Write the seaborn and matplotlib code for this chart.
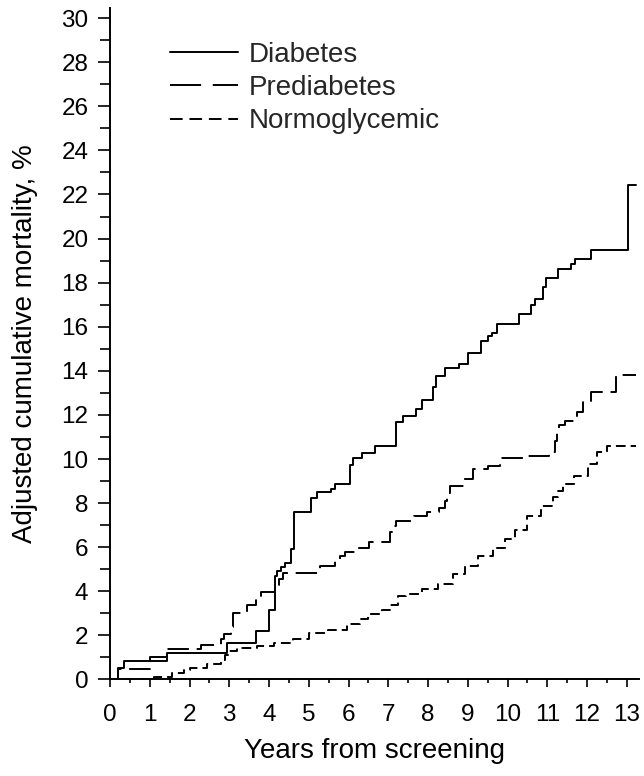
import matplotlib
matplotlib.use("Agg")
import matplotlib.pyplot as plt
import pandas as pd
import seaborn as sns
from matplotlib.lines import Line2D
from matplotlib.ticker import MultipleLocator

groups = ["Diabetes", "Prediabetes", "Normoglycemic"]

# step curves (value holds from each time onward)
diab_years = [0, 0.2, 0.36, 1.44, 2.95, 3.68, 4.0, 4.14, 4.2, 4.29, 4.4, 4.55, 4.62,
              5.06, 5.2, 5.56, 5.66, 6.04, 6.12, 6.35, 6.67, 7.19, 7.38, 7.71, 7.86,
              8.13, 8.2, 8.42, 8.78, 9.0, 9.34, 9.5, 9.6, 9.74, 10.3, 10.59, 10.69,
              10.88, 10.97, 11.28, 11.6, 11.7, 12.1, 13.03, 13.22]
diab_mort = [0, 0.5, 0.83, 1.2, 1.64, 2.2, 3.15, 4.7, 4.9, 5.1, 5.3, 5.9, 7.6,
             8.25, 8.5, 8.66, 8.86, 9.74, 10.05, 10.27, 10.6, 11.7, 11.94, 12.27, 12.68,
             13.26, 13.76, 14.12, 14.3, 14.8, 15.35, 15.6, 15.7, 16.12, 16.6, 16.97, 17.27,
             17.8, 18.23, 18.64, 18.86, 19.08, 19.47, 22.45, 22.45]

pre_years = [0, 0.2, 1.0, 1.44, 2.3, 2.78, 2.86, 3.05, 3.1, 3.45, 3.68, 3.8, 4.16, 4.24,
             4.34, 5.29, 5.66, 5.79, 5.91, 6.25, 6.51, 7.05, 7.1, 7.19, 7.65, 7.97, 8.27,
             8.42, 8.48, 8.56, 8.9, 9.13, 9.5, 9.82, 10.4, 11.05, 11.2, 11.25, 11.3, 11.44,
             11.68, 11.75, 11.91, 12.1, 12.73, 13.22]
pre_mort = [0, 0.48, 1.03, 1.4, 1.56, 1.82, 2.05, 2.4, 3.03, 3.36, 3.71, 3.97, 4.3, 4.55,
            4.85, 5.15, 5.38, 5.58, 5.8, 5.98, 6.24, 6.67, 6.97, 7.2, 7.42, 7.6, 7.76,
            8.1, 8.48, 8.76, 9.09, 9.55, 9.67, 10.06, 10.12, 10.33, 10.8, 11.28, 11.54, 11.74,
            11.97, 12.15, 12.65, 13.03, 13.83, 13.83]

norm_years = [0, 1.1, 1.55, 1.85, 2.0, 2.45, 2.8, 2.9, 3.0, 3.2, 3.7, 4.12, 4.6, 5.0,
              5.48, 5.95, 6.3, 6.5, 6.85, 7.05, 7.25, 7.44, 7.84, 8.25, 8.62, 8.92, 9.25,
              9.63, 9.93, 10.2, 10.5, 10.85, 11.15, 11.28, 11.4, 11.68, 12.02, 12.25, 12.5,
              13.22]
norm_mort = [0, 0.1, 0.3, 0.45, 0.53, 0.68, 0.9, 1.1, 1.29, 1.41, 1.51, 1.67, 1.82, 2.09,
             2.24, 2.5, 2.75, 2.95, 3.15, 3.4, 3.78, 3.86, 4.09, 4.32, 4.77, 5.15, 5.58,
             5.98, 6.36, 6.8, 7.42, 7.88, 8.26, 8.56, 8.86, 9.21, 9.77, 10.3, 10.58,
             10.58]

sns.set_theme(style="ticks")
plt.rcParams["font.family"] = ["Liberation Sans", "DejaVu Sans"]

df = pd.concat([
    pd.DataFrame({"years": diab_years, "mortality": diab_mort, "group": groups[0]}),
    pd.DataFrame({"years": pre_years, "mortality": pre_mort, "group": groups[1]}),
    pd.DataFrame({"years": norm_years, "mortality": norm_mort, "group": groups[2]}),
], ignore_index=True)

line_dashes = {"Diabetes": "", "Prediabetes": (11, 4), "Normoglycemic": (5, 2.6)}

fig = plt.figure(figsize=(6.44, 7.76), dpi=100)
ax = fig.add_axes([0.1708, 0.1244, 0.821, 0.865])

sns.lineplot(data=df, x="years", y="mortality", style="group", style_order=groups,
             dashes=line_dashes, color="black", linewidth=1.4, drawstyle="steps-post",
             estimator=None, sort=False, legend=False, ax=ax)

ax.set_xlim(0, 13.3)
ax.set_ylim(0, 30.45)
ax.xaxis.set_major_locator(MultipleLocator(1))
ax.xaxis.set_minor_locator(MultipleLocator(0.5))
ax.yaxis.set_major_locator(MultipleLocator(2))
ax.yaxis.set_minor_locator(MultipleLocator(1))
sns.despine(ax=ax)
for side in ["left", "bottom"]:
    ax.spines[side].set_linewidth(1.4)
    ax.spines[side].set_color("black")

ax.tick_params(axis="x", which="major", length=5.5, width=1.2, pad=12,
               labelsize=17.5, color="black", labelcolor="black")
ax.tick_params(axis="x", which="minor", length=3, width=1.2, color="black")
ax.tick_params(axis="y", which="major", length=8.5, width=1.2, pad=7,
               labelsize=17.5, color="black", labelcolor="black")
ax.tick_params(axis="y", which="minor", length=7, width=1.2, color="black")

ax.set_xlabel("Years from screening", fontsize=20, color="black", labelpad=9)
ax.set_ylabel("Adjusted cumulative mortality, %", fontsize=20, color="black", labelpad=17)

handles = [
    Line2D([], [], color="black", lw=1.4),
    Line2D([], [], color="black", lw=1.4, dashes=(16, 6)),
    Line2D([], [], color="black", lw=1.4, dashes=(6.5, 3.5)),
]
ax.legend(handles, groups, loc="upper left", frameon=False, fontsize=20,
          handlelength=2.45, handletextpad=0.4, labelspacing=0.26,
          borderpad=0, borderaxespad=0,
          bbox_to_anchor=(170 / 644, 1 - 42 / 776), bbox_transform=fig.transFigure)

fig.savefig("out.png", dpi=100)
